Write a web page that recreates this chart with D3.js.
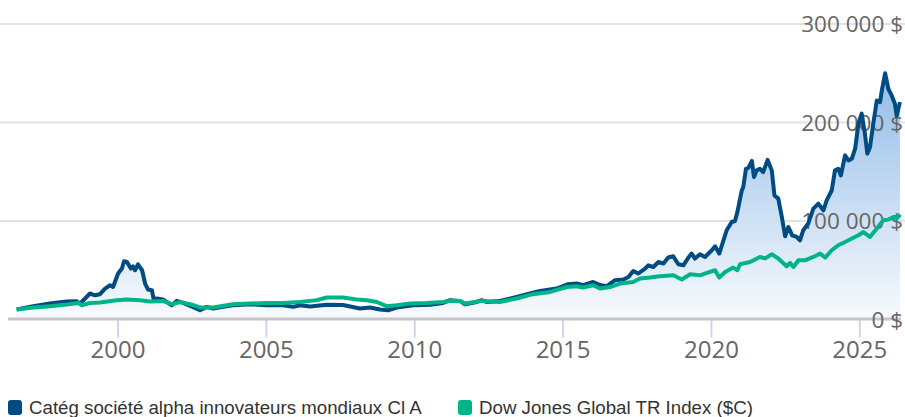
<!DOCTYPE html>
<html lang="fr">
<head>
<meta charset="utf-8">
<title>Croissance de 10 000 $</title>
<script src="https://cdn.jsdelivr.net/npm/d3@7"></script>
<style>
  html, body { margin: 0; padding: 0; background: #fff; }
  svg { display: block; }
  .axis-label { font-family: 'Open Sans', sans-serif; fill: #666; }
  .legend-text { font-family: 'Liberation Sans', Arial, sans-serif; font-size: 18.7px; fill: #333; }
</style>
</head>
<body>
<svg id="chart"></svg>
<script>
// Series names
const seriesNames = ['Catég société alpha innovateurs mondiaux Cl A', 'Dow Jones Global TR Index ($C)'];

// Fund (category) - decimal years and values ($)
const fundYears = [
  1996.60, 1997.16, 1997.72, 1998.29, 1998.62, 1998.74, 1999.07, 1999.24, 1999.41, 1999.58,
  1999.75, 1999.85, 2000.02, 2000.15, 2000.22, 2000.32, 2000.45, 2000.52, 2000.59, 2000.69,
  2000.83, 2000.93, 2001.03, 2001.16, 2001.22, 2001.32, 2001.53, 2001.83, 2002.00, 2002.21,
  2002.51, 2002.78, 2003.01, 2003.22, 2003.56, 2003.89, 2004.47, 2005.03, 2005.58, 2005.92,
  2006.15, 2006.49, 2007.05, 2007.60, 2008.17, 2008.51, 2008.85, 2009.12, 2009.41, 2009.96,
  2010.53, 2010.97, 2011.21, 2011.54, 2011.71, 2012.11, 2012.27, 2012.44, 2012.89, 2013.45,
  2013.90, 2014.24, 2014.80, 2015.19, 2015.48, 2015.69, 2016.03, 2016.26, 2016.49, 2016.77,
  2017.05, 2017.22, 2017.38, 2017.55, 2017.78, 2017.89, 2018.06, 2018.23, 2018.40, 2018.56,
  2018.73, 2018.90, 2019.07, 2019.24, 2019.35, 2019.46, 2019.63, 2019.80, 2020.03, 2020.14,
  2020.28, 2020.53, 2020.70, 2020.81, 2020.89, 2021.04, 2021.09, 2021.18, 2021.26, 2021.38,
  2021.45, 2021.54, 2021.65, 2021.76, 2021.91, 2022.05, 2022.14, 2022.27, 2022.39, 2022.50,
  2022.61, 2022.74, 2022.89, 2023.00, 2023.11, 2023.28, 2023.45, 2023.62, 2023.79, 2023.90,
  2024.07, 2024.18, 2024.29, 2024.38, 2024.52, 2024.63, 2024.75, 2024.86, 2024.97, 2025.08,
  2025.19, 2025.27, 2025.36, 2025.47, 2025.59, 2025.70, 2025.76, 2025.87, 2025.98, 2026.09,
  2026.20, 2026.26, 2026.37
];
const fundValues = [
  10100, 13500, 16200, 18300, 18600, 16200, 26400, 24600, 25700, 31400,
  34800, 33000, 46700, 51700, 59100, 58400, 51700, 54000, 50000, 56000,
  50000, 36500, 30400, 29700, 20300, 21300, 20300, 14500, 18900, 16800,
  13000, 9400, 12800, 11200, 13000, 14500, 15500, 14500, 14500, 12800,
  14500, 13200, 15000, 14800, 11200, 12200, 10100, 9400, 12200, 14500,
  15000, 16800, 19600, 18900, 15500, 17800, 19600, 17800, 18900, 22900,
  26400, 29000, 31400, 35800, 36500, 34800, 38100, 35000, 33800, 39900,
  40600, 43200, 49300, 46700, 51700, 55000, 53300, 58400, 56800, 62900,
  64200, 56100, 55000, 62900, 66900, 61900, 66200, 63500, 70300, 74300,
  66900, 90600, 99000, 100000, 109000, 131000, 134500, 153000, 154000, 161000,
  144600, 151400, 153000, 149700, 162000, 151400, 126000, 122700, 104000, 84500,
  93900, 85500, 83800, 80400, 90600, 97400, 112600, 117600, 110900, 121000,
  131000, 151400, 153000, 146300, 166600, 161600, 163300, 173400, 198800, 209000,
  188600, 168400, 175000, 198800, 222400, 220700, 232600, 250000, 234000, 227500,
  219000, 207000, 220700
];

// Index - decimal years and values ($)
const indexYears = [
  1996.60, 1997.16, 1997.72, 1998.29, 1998.68, 1998.79, 1999.07, 1999.41, 1999.97, 2000.31,
  2000.76, 2001.10, 2001.53, 2001.83, 2002.11, 2002.51, 2002.78, 2003.22, 2003.89, 2004.47,
  2005.03, 2005.58, 2006.15, 2006.49, 2006.71, 2007.05, 2007.60, 2008.06, 2008.40, 2008.74,
  2009.07, 2009.41, 2009.86, 2010.42, 2010.97, 2011.21, 2011.54, 2011.71, 2012.27, 2012.89,
  2013.45, 2014.00, 2014.58, 2015.14, 2015.48, 2015.69, 2016.03, 2016.26, 2016.60, 2016.94,
  2017.38, 2017.61, 2017.95, 2018.28, 2018.73, 2019.02, 2019.30, 2019.63, 2019.86, 2020.14,
  2020.28, 2020.48, 2020.75, 2020.89, 2020.98, 2021.32, 2021.65, 2021.83, 2022.05, 2022.27,
  2022.55, 2022.67, 2022.78, 2022.95, 2023.17, 2023.45, 2023.68, 2023.85, 2024.07, 2024.29,
  2024.52, 2024.75, 2024.97, 2025.14, 2025.36, 2025.59, 2025.81, 2025.98, 2026.15, 2026.26,
  2026.37
];
const indexValues = [
  10100, 12200, 13500, 15200, 16800, 14500, 16800, 17200, 19600, 20300,
  19600, 18300, 18900, 15500, 17800, 15000, 12200, 12200, 15500, 16200,
  16800, 16800, 17800, 18900, 19600, 22300, 22300, 20300, 19600, 17800,
  13500, 14500, 16200, 16800, 17800, 18900, 18900, 16200, 18900, 17800,
  21300, 25700, 28000, 33000, 33800, 32500, 34800, 31400, 33000, 36500,
  38100, 41600, 42600, 43900, 44900, 40600, 45900, 44900, 47300, 50000,
  42600, 48300, 52700, 50000, 56100, 58400, 63500, 62000, 66200, 61900,
  54000, 57400, 53300, 60100, 60100, 63500, 66900, 62900, 70300, 75400,
  78700, 82200, 85500, 88800, 83800, 92300, 100700, 101400, 104000, 102400,
  106800
];

// Axis ticks
const yearTicks = [2000, 2005, 2010, 2015, 2020, 2025];
const valueTicks = [0, 100000, 200000, 300000];

const colors = { fund: '#004b82', index: '#00b48a' };

const width = 905;
const height = 417;

const svg = d3.select('#chart')
  .attr('width', width)
  .attr('height', height);

// Scales
const x = d3.scaleLinear()
  .domain([2000, 2025])
  .range([117.5, 859.3]);

const y = d3.scaleLinear()
  .domain([0, 300000])
  .range([319.5, 24]);

const fund = fundYears.map((d, i) => ({ year: d, value: fundValues[i] }));
const index = indexYears.map((d, i) => ({ year: d, value: indexValues[i] }));

// Gradient for area under the fund line
const defs = svg.append('defs');
const grad = defs.append('linearGradient')
  .attr('id', 'fundFill')
  .attr('gradientUnits', 'userSpaceOnUse')
  .attr('x1', 0).attr('x2', 0)
  .attr('y1', y(300000)).attr('y2', y(0));
grad.append('stop').attr('offset', '0%').attr('stop-color', '#7eb0e4');
grad.append('stop').attr('offset', '100%').attr('stop-color', '#f8fafd');

// Grid lines
svg.append('g')
  .attr('class', 'grid')
  .selectAll('line')
  .data(valueTicks.filter(d => d > 0))
  .enter()
  .append('line')
  .attr('x1', 0)
  .attr('x2', width)
  .attr('y1', d => y(d))
  .attr('y2', d => y(d))
  .attr('stroke', '#e3e3e3')
  .attr('stroke-width', 2);

// Area under fund
const area = d3.area()
  .x(d => x(d.year))
  .y0(y(0))
  .y1(d => y(d.value));

svg.append('path')
  .datum(fund)
  .attr('d', area)
  .attr('fill', 'url(#fundFill)');

// X axis
const xAxis = svg.append('g')
  .attr('class', 'axis x-axis')
  .attr('transform', `translate(0,${y(0)})`)
  .call(d3.axisBottom(x)
    .tickValues(yearTicks)
    .tickFormat(d3.format('d'))
    .tickSize(18)
    .tickPadding(12));

xAxis.select('.domain').remove();
xAxis.selectAll('.tick line')
  .attr('stroke', '#ccd6eb')
  .attr('stroke-width', 2);
xAxis.selectAll('.tick text')
  .attr('class', 'axis-label')
  .attr('y', 38)
  .attr('dy', 0)
  .style('font-size', '24px');

// Axis baseline
svg.append('line')
  .attr('x1', 8)
  .attr('x2', 901)
  .attr('y1', y(0) - 0.5)
  .attr('y2', y(0) - 0.5)
  .attr('stroke', '#c4c4c9')
  .attr('stroke-width', 3);

// Y axis labels (right side)
const fmt = d => d3.format(',')(d).replace(/,/g, ' ') + ' $';
svg.append('g')
  .attr('class', 'y-labels')
  .selectAll('text')
  .data(valueTicks)
  .enter()
  .append('text')
  .attr('class', 'axis-label')
  .attr('x', 903)
  .attr('y', d => y(d))
  .attr('dy', '0.36em')
  .attr('text-anchor', 'end')
  .style('font-size', '22.5px')
  .text(fmt);

// Lines
const line = d3.line()
  .x(d => x(d.year))
  .y(d => y(d.value));

svg.append('path')
  .datum(fund)
  .attr('d', line)
  .attr('fill', 'none')
  .attr('stroke', colors.fund)
  .attr('stroke-width', 4)
  .attr('stroke-linejoin', 'round');

svg.append('path')
  .datum(index)
  .attr('d', line)
  .attr('fill', 'none')
  .attr('stroke', colors.index)
  .attr('stroke-width', 4)
  .attr('stroke-linejoin', 'round');

// Legend
const legend = svg.append('g').attr('class', 'legend');
const legendItems = [
  { name: seriesNames[0], color: colors.fund, x: 8 },
  { name: seriesNames[1], color: colors.index, x: 458 }
];
legendItems.forEach(item => {
  legend.append('rect')
    .attr('x', item.x)
    .attr('y', 400)
    .attr('width', 14)
    .attr('height', 15)
    .attr('rx', 3)
    .attr('fill', item.color);
  legend.append('text')
    .attr('class', 'legend-text')
    .attr('x', item.x + 21)
    .attr('y', 414)
    .text(item.name);
});
</script>
</body>
</html>
